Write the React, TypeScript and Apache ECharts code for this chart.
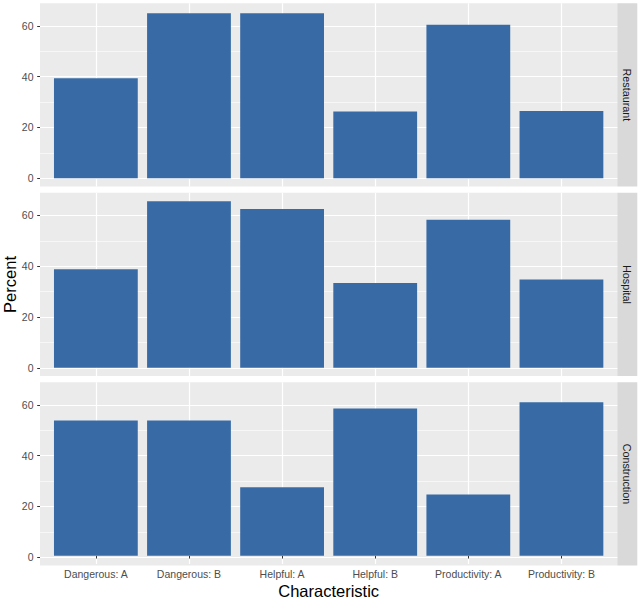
import React, { useEffect, useRef } from 'react'
import * as echarts from 'echarts'

const categories = ['Dangerous: A', 'Dangerous: B', 'Helpful: A', 'Helpful: B', 'Productivity: A', 'Productivity: B']
const facets = ['Restaurant', 'Hospital', 'Construction']
const restaurant = [39.4, 65.0, 65.0, 26.3, 60.4, 26.5]
const hospital = [38.8, 65.6, 62.5, 33.4, 58.3, 34.7]
const construction = [53.7, 53.7, 27.2, 58.5, 24.3, 61.0]
const yTicks = [0, 20, 40, 60]

const facetValues = [restaurant, hospital, construction]

// ggplot-like panel geometry
const PANEL_LEFT = 40
const PANEL_RIGHT = 617.3
const PANEL_TOP = 3.3
const PANEL_HEIGHT = 183.3
const PANEL_GAP = 6.2
const STRIP_WIDTH = 20
const FONT = 'Liberation Sans, Arial, sans-serif'
const PANEL_BG = '#EBEBEB'
const GRID_LINE = '#FFFFFF'

const App: React.FC = () => {
    const chartRef = useRef<HTMLDivElement>(null)

    useEffect(() => {
        document.body.style.margin = '0'
        const chart = echarts.init(chartRef.current, null, { renderer: 'svg' })

        // shared y scale across facets, expanded 5% like ggplot
        const yMax = Math.max(...facetValues.flat())
        const yLow = -0.05 * yMax
        const yHigh = yMax * 1.05
        const pxPerUnit = PANEL_HEIGHT / (yHigh - yLow)
        // discrete x axis: 0.6 of a category added on each side
        const panelWidth = PANEL_RIGHT - PANEL_LEFT
        const pxPerCat = panelWidth / (categories.length - 1 + 1.2)
        const innerLeft = PANEL_LEFT + 0.6 * pxPerCat
        const innerWidth = pxPerCat * (categories.length - 1)
        const overshoot = 3 // horizontal-line grid pokes into the white gap
        const last = facets.length - 1

        const grids: any[] = []
        const xAxes: any[] = []
        const yAxes: any[] = []
        const series: any[] = []
        const graphics: any[] = []

        facets.forEach((name, i) => {
            const top = PANEL_TOP + i * (PANEL_HEIGHT + PANEL_GAP)
            const base = 3 * i

            // A: panel background
            grids.push({ left: PANEL_LEFT, width: panelWidth, top, height: PANEL_HEIGHT, show: true, backgroundColor: PANEL_BG, borderWidth: 0 })
            xAxes.push({ type: 'value', gridIndex: base, show: false })
            yAxes.push({ type: 'value', gridIndex: base, show: false })

            // B: horizontal grid lines and y labels, from the 0 line up
            grids.push({
                left: PANEL_LEFT,
                width: panelWidth,
                top: top - overshoot,
                height: overshoot + yHigh * pxPerUnit,
                show: false,
            })
            xAxes.push({ type: 'value', gridIndex: base + 1, show: false })
            yAxes.push({
                type: 'value',
                gridIndex: base + 1,
                min: 0,
                max: yHigh + overshoot / pxPerUnit,
                interval: 20,
                axisLine: { show: false },
                axisTick: { show: true, customValues: yTicks, length: 2.8, lineStyle: { color: '#333333', width: 1 } },
                axisLabel: { customValues: yTicks, color: '#4D4D4D', fontSize: 10.5, fontFamily: FONT, margin: 6.5 },
                splitLine: { show: true, lineStyle: { color: GRID_LINE, width: 1.2 } },
            })
            yAxes.push({
                type: 'value',
                gridIndex: base + 1,
                min: 0,
                max: yHigh + overshoot / pxPerUnit,
                interval: 10,
                axisLine: { show: false },
                axisTick: { show: false },
                axisLabel: { show: false },
                splitLine: { show: true, lineStyle: { color: GRID_LINE, width: 0.6 } },
            })

            // C: bars, vertical grid lines, x labels
            grids.push({ left: innerLeft, width: innerWidth, top, height: PANEL_HEIGHT, show: false })
            xAxes.push({
                type: 'category',
                gridIndex: base + 2,
                data: categories,
                boundaryGap: false,
                axisLine: { show: false },
                axisTick: { show: i === last, interval: 0, length: 2.8, lineStyle: { color: '#333333', width: 1 } },
                axisLabel: { show: i === last, interval: 0, color: '#4D4D4D', fontSize: 10.5, fontFamily: FONT, margin: 4.5 },
                splitLine: { show: true, interval: 0, lineStyle: { color: GRID_LINE, width: 1.2 } },
                name: i === last ? 'Characteristic' : '',
                nameLocation: 'middle',
                nameGap: 18,
                nameTextStyle: { fontSize: 16.5, color: '#000000', fontFamily: FONT },
            })
            yAxes.push({ type: 'value', gridIndex: base + 2, min: yLow, max: yHigh, show: false })

            series.push({
                name,
                type: 'bar',
                xAxisIndex: base + 2,
                yAxisIndex: 4 * i + 3,
                barWidth: '90%',
                itemStyle: { color: '#386BA6' },
                data: facetValues[i],
            })

            // facet strip on the right
            graphics.push({
                type: 'rect',
                shape: { x: PANEL_RIGHT, y: top, width: STRIP_WIDTH, height: PANEL_HEIGHT },
                style: { fill: '#D9D9D9' },
                silent: true,
            })
            graphics.push({
                type: 'text',
                x: PANEL_RIGHT + STRIP_WIDTH / 2,
                y: top + PANEL_HEIGHT / 2,
                rotation: -Math.PI / 2,
                style: { text: name, fill: '#1A1A1A', font: `10.8px ${FONT}`, textAlign: 'center', textVerticalAlign: 'middle' },
                silent: true,
            })
        })

        graphics.push({
            type: 'text',
            x: 10,
            y: PANEL_TOP + (3 * PANEL_HEIGHT + 2 * PANEL_GAP) / 2,
            rotation: Math.PI / 2,
            style: { text: 'Percent', fill: '#000000', font: `16.5px ${FONT}`, textAlign: 'center', textVerticalAlign: 'middle' },
            silent: true,
        })

        chart.setOption({
            animation: false,
            backgroundColor: '#FFFFFF',
            grid: grids,
            xAxis: xAxes,
            yAxis: yAxes,
            series,
            graphic: graphics,
        })

        return () => {
            chart.dispose()
        }
    }, [])

    return <div ref={chartRef} style={{ width: '640px', height: '600px' }} />
}

export default App
